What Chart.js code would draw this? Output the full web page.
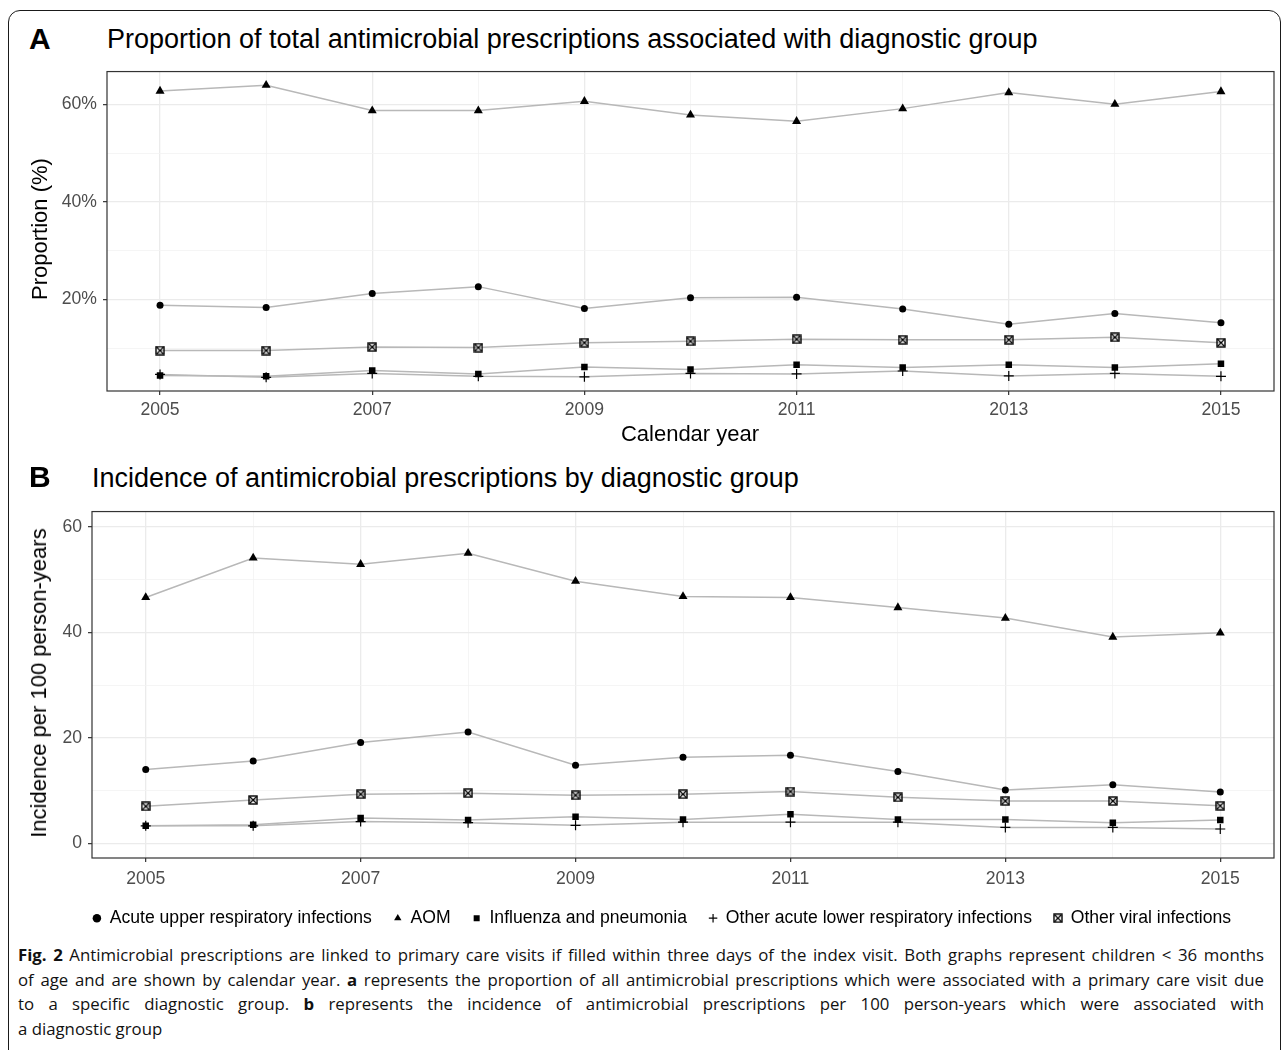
<!DOCTYPE html>
<html>
<head>
<meta charset="utf-8">
<title>Antimicrobial prescriptions by diagnostic group</title>
<script src="https://cdn.jsdelivr.net/npm/chart.js@4.4.1/dist/chart.umd.min.js"></script>
<style>
  html, body { margin: 0; padding: 0; background: #fff; }
  body { width: 1287px; height: 1050px; position: relative; overflow: hidden;
         font-family: "Liberation Sans", Arial, Helvetica, sans-serif; color: #000; }
  .frame { position: absolute; left: 8px; top: 10px; width: 1273px; height: 1120px;
           border: 1.4px solid #1a1a1a; border-radius: 12px; box-sizing: border-box; }
  .abs { position: absolute; white-space: nowrap; line-height: 1; }
  .tag { font-weight: bold; font-size: 30px; }
  .title { font-size: 27px; }
  .axtitle { font-size: 22px; transform: translateX(-50%); }
  .ytitle { font-size: 22px; transform: translate(-50%, -50%) rotate(-90deg); }
  .wrap { position: absolute; left: 0; width: 1287px; }
  .cap { position: absolute; left: 18px; width: 1246px; font-family: "Open Sans", "Noto Sans", sans-serif;
         font-size: 16.8px; line-height: 24.5px; white-space: nowrap; color: #111; }
  .cap b { font-weight: 700; }
</style>
</head>
<body>
<div class="frame"></div>

<div class="abs tag" style="left:29px; top:24px;">A</div>
<div class="abs title" style="left:107px; top:26px;">Proportion of total antimicrobial prescriptions associated with diagnostic group</div>
<div class="wrap" style="top:55px; height:375px;"><canvas id="chartA" width="1287" height="375"></canvas></div>
<div class="abs ytitle" style="left:40px; top:229px;">Proportion (%)</div>
<div class="abs axtitle" style="left:690px; top:423px;">Calendar year</div>

<div class="abs tag" style="left:29px; top:462px;">B</div>
<div class="abs title" style="left:92px; top:465px;">Incidence of antimicrobial prescriptions by diagnostic group</div>
<div class="wrap" style="top:495px; height:442px;"><canvas id="chartB" width="1287" height="442"></canvas></div>
<div class="abs ytitle" style="left:39px; top:683px;">Incidence per 100 person-years</div>

<div class="cap just" style="top:943px;"><span><b>Fig. 2</b> Antimicrobial prescriptions are linked to primary care visits if filled within three days of the index visit. Both graphs represent children &lt; 36 months</span></div>
<div class="cap just" style="top:967.5px;"><span>of age and are shown by calendar year. <b>a</b> represents the proportion of all antimicrobial prescriptions which were associated with a primary care visit due</span></div>
<div class="cap just" style="top:992px;"><span>to a specific diagnostic group. <b>b</b> represents the incidence of antimicrobial prescriptions per 100 person-years which were associated with</span></div>
<div class="cap" style="top:1016.5px;"><span>a diagnostic group</span></div>

<script>
// data
const years = [2005, 2006, 2007, 2008, 2009, 2010, 2011, 2012, 2013, 2014, 2015];
const labelYears = [2005, 2007, 2009, 2011, 2013, 2015];
const groups = ['Acute upper respiratory infections', 'AOM', 'Influenza and pneumonia',
                'Other acute lower respiratory infections', 'Other viral infections'];

// A: share of all antimicrobial prescriptions (%)
const propAcuteUpper = [18.8, 18.3, 21.2, 22.6, 18.1, 20.3, 20.4, 18.0, 14.9, 17.1, 15.2];
const propAOM        = [62.7, 63.9, 58.7, 58.7, 60.6, 57.8, 56.5, 59.1, 62.4, 60.0, 62.6];
const propFlu        = [4.4, 4.2, 5.4, 4.7, 6.1, 5.6, 6.6, 6.0, 6.6, 6.0, 6.8];
const propLowerResp  = [4.6, 4.0, 4.8, 4.2, 4.1, 4.8, 4.7, 5.3, 4.3, 4.8, 4.2];
const propViral      = [9.5, 9.5, 10.2, 10.1, 11.1, 11.4, 11.8, 11.7, 11.7, 12.2, 11.1];

// B: prescriptions per 100 person-years
const incAcuteUpper = [14.0, 15.6, 19.1, 21.1, 14.8, 16.3, 16.7, 13.6, 10.1, 11.1, 9.7];
const incAOM        = [46.6, 54.1, 52.9, 55.0, 49.7, 46.8, 46.6, 44.7, 42.7, 39.1, 39.9];
const incFlu        = [3.3, 3.5, 4.8, 4.4, 5.0, 4.5, 5.5, 4.5, 4.5, 3.9, 4.4];
const incLowerResp  = [3.3, 3.3, 4.1, 3.9, 3.4, 4.0, 4.0, 4.0, 3.0, 3.0, 2.7];
const incViral      = [7.0, 8.2, 9.3, 9.5, 9.1, 9.3, 9.8, 8.7, 8.0, 8.0, 7.1];

const yMajorA = [20, 40, 60];
const yMinorA = [10, 30, 50];
const yMajorB = [0, 20, 40, 60];
const yMinorB = [10, 30, 50];

Chart.defaults.font.family = '"Liberation Sans", Arial, Helvetica, sans-serif';
Chart.defaults.animation = false;

// ggplot shape 7: square with an x inside
function boxedX(size) {
  const c = document.createElement('canvas');
  c.width = size; c.height = size;
  const g = c.getContext('2d');
  g.strokeStyle = '#000';
  g.lineWidth = 1.4;
  g.strokeRect(1, 1, size - 2, size - 2);
  g.lineWidth = 1.2;
  g.beginPath();
  g.moveTo(1.5, 1.5); g.lineTo(size - 1.5, size - 1.5);
  g.moveTo(size - 1.5, 1.5); g.lineTo(1.5, size - 1.5);
  g.stroke();
  return c;
}
const viralMark = boxedX(10);

const shapes = [
  { pointStyle: 'circle',   pointRadius: 3.5, pointBorderWidth: 0 },
  { pointStyle: 'triangle', pointRadius: 5.2, pointBorderWidth: 0 },
  { pointStyle: 'rect',     pointRadius: 4.6, pointBorderWidth: 0 },
  { pointStyle: 'cross',    pointRadius: 5,   pointBorderWidth: 1.2 },
  { pointStyle: viralMark,  pointRadius: 5,   pointBorderWidth: 0 }
];

const panelBorder = {
  id: 'panelBorder',
  afterDatasetsDraw(chart) {
    const { ctx, chartArea: a } = chart;
    ctx.save();
    ctx.strokeStyle = '#333';
    ctx.lineWidth = 1.2;
    ctx.strokeRect(a.left, a.top, a.right - a.left, a.bottom - a.top);
    ctx.restore();
  }
};

function buildDatasets(series) {
  const lines = series.map((vals, i) => ({
    label: groups[i] + ' line',
    data: years.map((yr, j) => ({ x: yr, y: vals[j] })),
    showLine: true,
    borderColor: '#b8b8b8',
    borderWidth: 1.5,
    pointRadius: 0,
    pointHoverRadius: 0,
    fill: false,
    order: 2
  }));
  const marks = series.map((vals, i) => ({
    label: groups[i],
    isMark: true,
    data: years.map((yr, j) => ({ x: yr, y: vals[j] })),
    showLine: false,
    backgroundColor: '#000',
    borderColor: '#000',
    pointBackgroundColor: '#000',
    pointBorderColor: '#000',
    pointHoverRadius: shapes[i].pointRadius,
    ...shapes[i],
    order: 1
  }));
  return lines.concat(marks);
}

function makePanel(id, series, cfg) {
  const major = cfg.yMajor;
  const yTicks = cfg.yMinor.concat(major).sort((a, b) => a - b);
  return new Chart(document.getElementById(id), {
    type: 'scatter',
    data: { datasets: buildDatasets(series) },
    options: {
      responsive: false,
      events: [],
      layout: { padding: cfg.padding },
      plugins: {
        tooltip: { enabled: false },
        legend: cfg.legend ? {
          display: true,
          position: 'bottom',
          labels: {
            color: '#000',
            font: { size: 17.6 },
            usePointStyle: true,
            boxHeight: 6,
            boxWidth: 8,
            padding: 22,
            filter: (item, data) => data.datasets[item.datasetIndex].isMark,
            generateLabels: chart => Chart.defaults.plugins.legend.labels.generateLabels(chart)
              .map(l => ({ ...l, fillStyle: '#000', strokeStyle: '#000',
                           lineWidth: l.pointStyle === 'cross' ? 1.2 : 0 }))
          }
        } : { display: false }
      },
      scales: {
        x: {
          type: 'linear',
          min: 2004.5,
          max: 2015.5,
          afterBuildTicks: s => { s.ticks = years.map(v => ({ value: v })); },
          afterFit: s => { s.height = cfg.xHeight; },
          border: { display: false },
          grid: {
            color: c => labelYears.includes(c.tick.value) ? '#ebebeb' : '#f3f3f3',
            lineWidth: c => labelYears.includes(c.tick.value) ? 1.3 : 0.8,
            tickColor: c => labelYears.includes(c.tick.value) ? '#333' : 'rgba(0,0,0,0)',
            tickLength: 4,
            tickWidth: 1.2
          },
          ticks: {
            autoSkip: false,
            maxRotation: 0,
            color: '#4d4d4d',
            font: { size: 17.6 },
            padding: cfg.xPad,
            callback: v => labelYears.includes(v) ? String(v) : ''
          }
        },
        y: {
          min: cfg.yMin,
          max: cfg.yMax,
          afterBuildTicks: s => { s.ticks = yTicks.map(v => ({ value: v })); },
          afterFit: s => { s.width = cfg.yWidth; },
          border: { display: false },
          grid: {
            color: c => major.includes(c.tick.value) ? '#ebebeb' : '#f3f3f3',
            lineWidth: c => major.includes(c.tick.value) ? 1.3 : 0.8,
            tickColor: c => major.includes(c.tick.value) ? '#333' : 'rgba(0,0,0,0)',
            tickLength: 4,
            tickWidth: 1.2
          },
          ticks: {
            color: '#4d4d4d',
            font: { size: 17.6 },
            padding: 6,
            callback: v => major.includes(v) ? v + cfg.suffix : ''
          }
        }
      }
    },
    plugins: [panelBorder]
  });
}

makePanel('chartA', [propAcuteUpper, propAOM, propFlu, propLowerResp, propViral], {
  yMin: 1.2, yMax: 66.7, yMajor: yMajorA, yMinor: yMinorA, suffix: '%',
  padding: { top: 12, right: 13, bottom: 0, left: 0 },
  yWidth: 107, xHeight: 39, xPad: 5, legend: false
});

makePanel('chartB', [incAcuteUpper, incAOM, incFlu, incLowerResp, incViral], {
  yMin: -2.8, yMax: 62.9, yMajor: yMajorB, yMinor: yMinorB, suffix: '',
  padding: { top: 11, right: 13, bottom: 0, left: 50 },
  yWidth: 42, xHeight: 29.4, xPad: 7, legend: true
});

// justify caption lines the way the typeset figure does
function justifyCaption() {
  document.querySelectorAll('.cap.just span').forEach(span => {
    span.style.wordSpacing = '0px';
    const w = span.getBoundingClientRect().width;
    const gaps = (span.textContent.match(/ /g) || []).length;
    span.style.wordSpacing = ((1246 - w) / gaps) + 'px';
  });
}
justifyCaption();
if (document.fonts) document.fonts.ready.then(justifyCaption);
</script>
</body>
</html>
